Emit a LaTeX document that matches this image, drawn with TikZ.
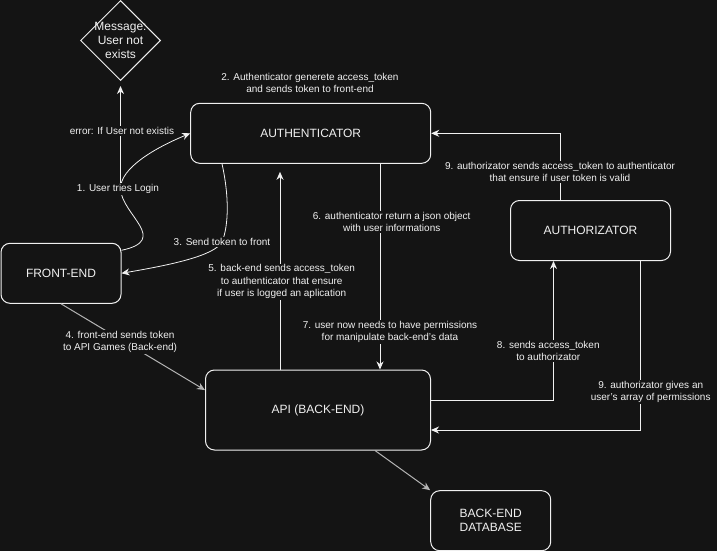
\documentclass[tikz,border=0pt]{standalone}
\usepackage{fontspec}
\setmainfont{Liberation Sans}
\usetikzlibrary{arrows.meta,shapes.geometric}
\definecolor{bg}{HTML}{141414}
\definecolor{fg}{HTML}{F0F0F0}
\definecolor{dim}{HTML}{B4B4B4}

\begin{document}
\begin{tikzpicture}[
        x=1pt, y=-1pt,
        every node/.style={text=fg},
        box/.style={draw=fg, line width=1pt, rounded corners=9pt, inner sep=0pt,
            align=center, font=\fontsize{12}{14}\selectfont},
        lbl/.style={fill=bg, inner sep=1pt, align=center, font=\fontsize{10}{12.5}\selectfont},
        arr/.style={draw=fg, line width=1pt, -{Stealth[length=8pt,width=7pt,inset=2.5pt]}}
    ]
                \fill [bg] (0,0) rectangle (717,551);
                \useasboundingbox (0,0) rectangle (717,551);
                \node [draw=fg, line width=1pt, diamond, minimum width=80pt, minimum height=80pt, inner sep=0pt] (msg) at (120.5,40.5) {};
                \node [align=center, font=\fontsize{12}{14}\selectfont] (msgtext) at (msg) {Message:\\User not\\exists};
                \node [box, minimum width=240pt, minimum height=60pt] (auth) at (310.7,133.3) {AUTHENTICATOR};
                \node [box, minimum width=160pt, minimum height=60pt] (authz) at (590.5,230.5) {AUTHORIZATOR};
                \node [box, minimum width=120pt, minimum height=60pt] (front) at (61,273.3) {FRONT-END};
                \node [box, minimum width=225pt, minimum height=80pt] (api) at (318,410) {API (BACK-END)};
                \node [box, minimum width=120pt, minimum height=60pt] (db) at (490.7,520.7) {BACK-END\\DATABASE};
                \coordinate (login) at (120.5,189);
                \coordinate (tofront) at (222,242);

                \draw [arr, line width=0.8pt] ([yshift=23pt]front.east) .. controls (170,240) and (122,215) .. (login)
                    .. controls (120,168) and (155,148) .. (auth.west);
                \draw [arr, shorten >=5pt] (login) -- (msg.south);
                \draw [arr, line width=0.8pt] ([xshift=-88.7pt]auth.south) .. controls (229,195) and (229,225) .. (tofront)
                    .. controls (214,256) and (170,265) .. (front.east);
                \draw [arr, draw=dim] (front.south) -- (api.170);
                \draw [arr, shorten >=8pt] ([xshift=-38pt]api.north) -- ([xshift=-38pt]api.north |- auth.south);
                \draw [arr] ([xshift=69.3pt]auth.south) -- ([xshift=69.3pt]auth.south |- api.north);
                \draw [arr] ([yshift=10pt]api.east) -| ([xshift=-37pt]authz.south);
                \draw [arr] ([xshift=-30pt]authz.north) |- (auth.east);
                \draw [arr] ([xshift=49.5pt]authz.south) |- ([yshift=-20pt]api.east);
                \draw [arr, draw=dim] ([xshift=57pt]api.south) -- (db.north west);

                \node [lbl] (errlbl) at (122,131) {error: If User not existis};
                \node [lbl] (loginlbl) at (118,189) {1. User tries Login};
                \node [lbl] (genlbl) at (310,83) {2. Authenticator generete access\_token\\and sends token to front-end};
                \node [lbl] (sendlbl) at (tofront) {3. Send token to front};
                \node [lbl] (apilbl) at (120,342) {4. front-end sends token\\to API Games (Back-end)};
                \node [lbl] (checklbl) at (281.7,281.7) {5. back-end sends access\_token\\to authenticator that ensure\\if user is logged an aplication};
                \node [lbl] (jsonlbl) at (391.7,221.7) {6. authenticator return a json object\\with user informations};
                \node [lbl] (permlbl) at (390,331.7) {7. user now needs to have permissions\\for manipulate back-end's data};
                \node [lbl] (tokenlbl) at (548.3,350.7) {8. sends access\_token\\to authorizator};
                \node [lbl] (validlbl) at (560,171.7) {9. authorizator sends access\_token to authenticator\\that ensure if user token is valid};
                \node [lbl] (arraylbl) at (650.7,391.7) {9. authorizator gives an\\user's array of permissions};
            \end{tikzpicture}
\end{document}
